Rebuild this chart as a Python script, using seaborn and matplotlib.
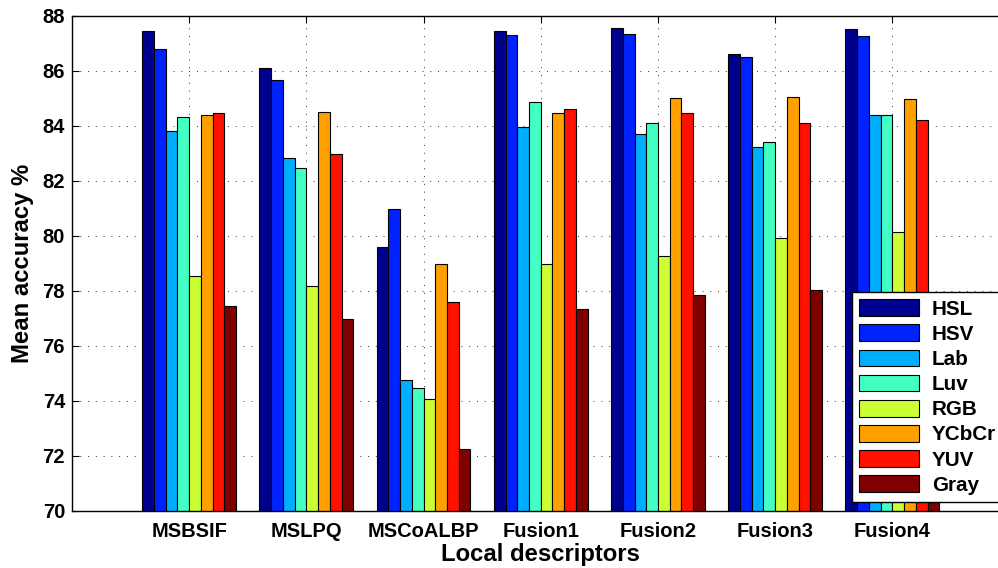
import matplotlib
matplotlib.use("Agg")
import matplotlib.pyplot as plt
import seaborn as sns
import pandas as pd

# Datos
descriptors = ["MSBSIF", "MSLPQ", "MSCoALBP", "Fusion1", "Fusion2", "Fusion3", "Fusion4"]
spaces = ["HSL", "HSV", "Lab", "Luv", "RGB", "YCbCr", "YUV", "Gray"]

hsl = [87.45, 86.11, 79.59, 87.45, 87.56, 86.62, 87.52]
hsv = [86.80, 85.66, 80.98, 87.31, 87.36, 86.51, 87.26]
lab = [83.82, 82.83, 74.75, 83.96, 83.71, 83.22, 84.41]
luv = [84.32, 82.47, 74.48, 84.87, 84.11, 83.42, 84.41]
rgb = [78.53, 78.19, 74.06, 78.98, 79.28, 79.93, 80.13]
ycbcr = [84.41, 84.52, 78.98, 84.46, 85.00, 85.07, 84.97]
yuv = [84.46, 82.97, 77.59, 84.62, 84.47, 84.12, 84.22]
gray = [77.44, 76.98, 72.25, 77.33, 77.84, 78.05, 77.60]

colors = ["#00008F", "#0022FF", "#00AEFF", "#44FFC4", "#CCFF33", "#FFA000", "#FF1100", "#800000"]

series = [hsl, hsv, lab, luv, rgb, ycbcr, yuv, gray]
rows = []
for name, vals in zip(spaces, series):
    for d, v in zip(descriptors, vals):
        rows.append({"descriptor": d, "space": name, "acc": v})
df = pd.DataFrame(rows)

sns.set_style("ticks")
plt.rcParams["font.family"] = ["Liberation Sans", "DejaVu Sans"]
plt.rcParams["font.weight"] = "bold"
plt.rcParams["text.color"] = "black"
plt.rcParams["axes.labelcolor"] = "black"
plt.rcParams["xtick.color"] = "black"
plt.rcParams["ytick.color"] = "black"

fig = plt.figure(figsize=(9.98, 5.68), dpi=100)
ax = fig.add_axes([0.0721, 0.1004, 0.9395, 0.8715])

sns.barplot(data=df, x="descriptor", y="acc", hue="space", order=descriptors,
            hue_order=spaces, palette=colors, saturation=1, width=0.8,
            edgecolor="black", linewidth=0.8, errorbar=None, ax=ax)

ax.set_xlim(-1, 7)
ax.set_ylim(70, 88)
ax.set_yticks(range(70, 89, 2))
ax.set_axisbelow(True)
ax.grid(True, axis="both", color="#333333", linestyle=(0, (1, 7)), linewidth=0.7)

ax.tick_params(direction="in", length=5, width=0.8, top=True, right=False,
               labelsize=14.5)
ax.tick_params(axis="x", pad=8)
ax.tick_params(axis="y", pad=5)
for lab_ in ax.get_xticklabels() + ax.get_yticklabels():
    lab_.set_fontweight("bold")
for s in ax.spines.values():
    s.set_color("black")
    s.set_linewidth(1.0)
ax.spines["right"].set_visible(False)

ax.set_xlabel("Local descriptors", fontsize=17.2, fontweight="bold")
ax.set_ylabel("Mean accuracy %", fontsize=17.2, fontweight="bold", labelpad=6)
ax.xaxis.set_label_coords(469 / 938, -0.065)

# la leyenda sobresale por la derecha, como en el original
leg = ax.legend(loc="upper left", bbox_to_anchor=(852 / 998, 0, 0.17, 1 - 292 / 568),
                mode="expand", bbox_transform=fig.transFigure, fontsize=14.9,
                frameon=True, fancybox=False, edgecolor="black", framealpha=1,
                handlelength=2.9, handleheight=0.87, labelspacing=0.27,
                borderpad=0.35, handletextpad=0.62, borderaxespad=0)
leg.get_frame().set_linewidth(1.0)
for t in leg.get_texts():
    t.set_fontweight("bold")

fig.savefig("out.png", dpi=100)
